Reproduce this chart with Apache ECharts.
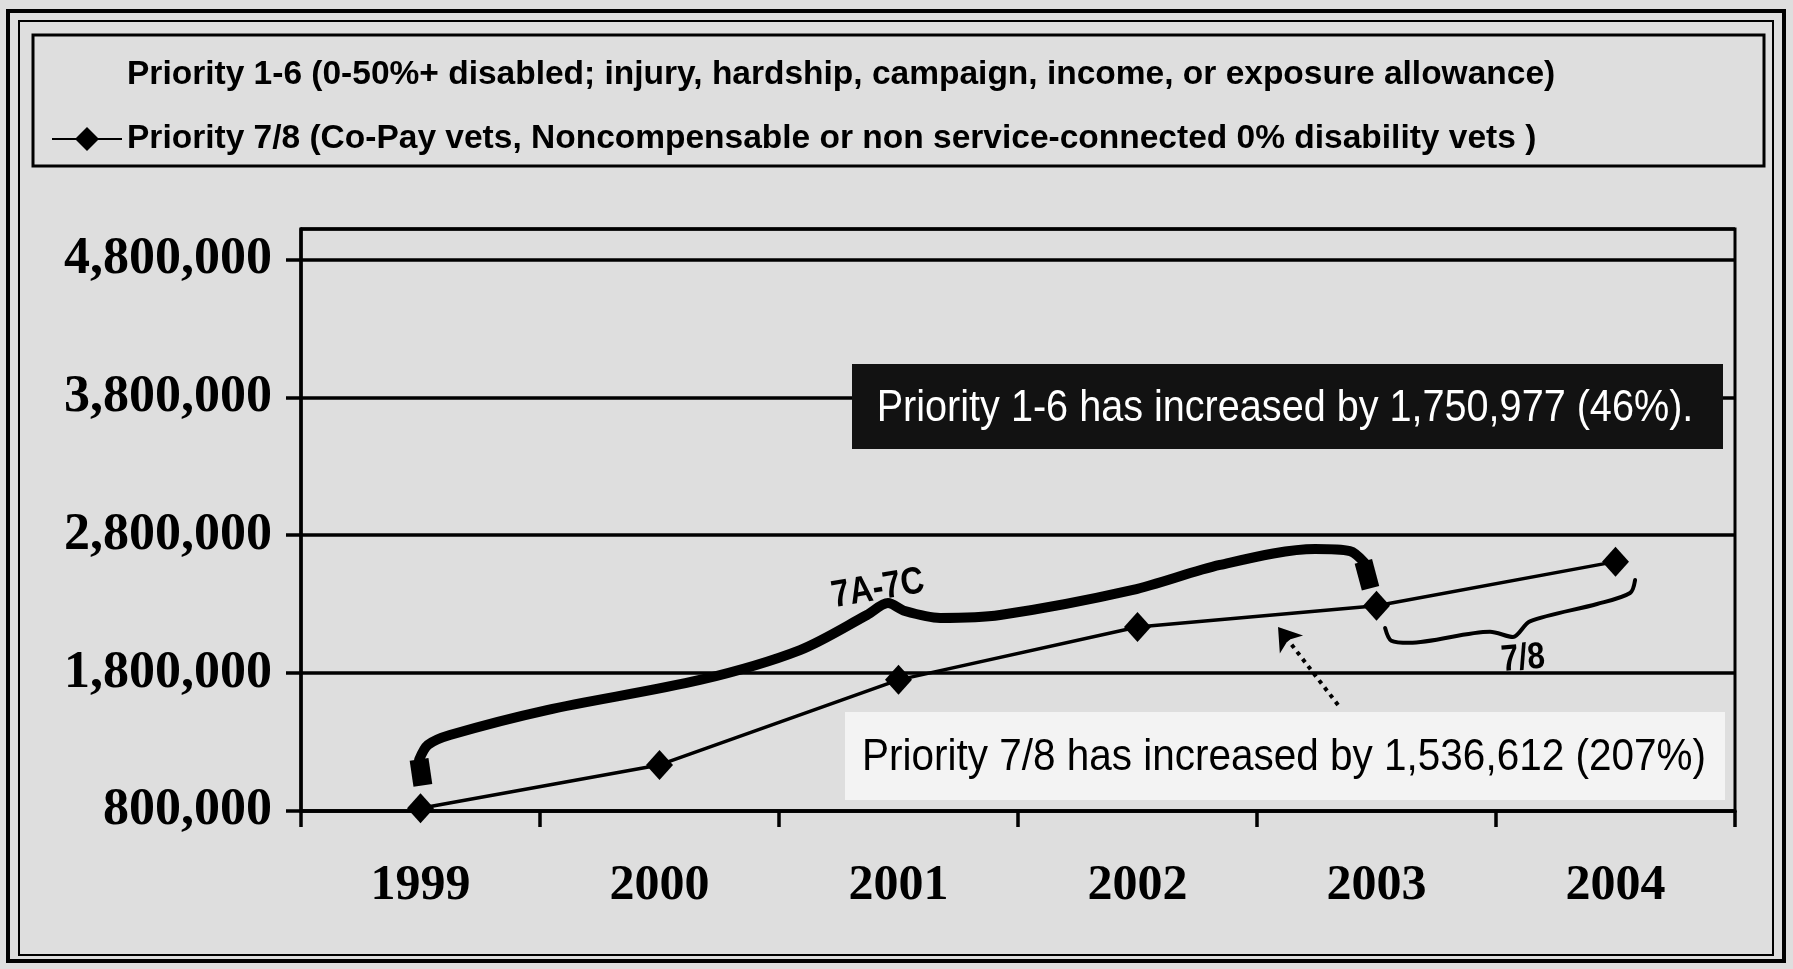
<!DOCTYPE html>
<html>
<head>
<meta charset="utf-8">
<style>
html,body{margin:0;padding:0;background:#dedede;}
#chart{width:1793px;height:969px;}
</style>
<script src="https://cdn.jsdelivr.net/npm/echarts@6/dist/echarts.min.js"></script>
</head>
<body>
<div id="chart"></div>
<script>
// ---- data ----
const years = ['1999', '2000', '2001', '2002', '2003', '2004'];
const name16 = 'Priority 1-6 (0-50%+ disabled; injury, hardship, campaign, income, or exposure allowance)';
const name78 = 'Priority 7/8 (Co-Pay vets, Noncompensable or non service-connected 0% disability vets )';
const priority16 = [];
const priority78 = [820000, 1134000, 1751000, 2134000, 2288000, 2608000];
const yMin = 800000;
const yMax = 5020000;
const yStep = 1000000;
// annotation braces, in [category position, value]
const brace16 = [[-0.006, 1170000], [0.031, 1279000], [0.123, 1351000], [0.529, 1532000],
  [1.169, 1750000], [1.588, 1967000], [1.868, 2221000], [1.956, 2308000], [2.027, 2250000],
  [2.174, 2200000], [2.425, 2221000], [2.981, 2403000], [3.345, 2584000], [3.743, 2700000],
  [3.889, 2685000], [3.950, 2600000]];
const brace16Start = [[0.010, 985000], [-0.006, 1175000]];
const brace16End = [[3.945, 2610000], [3.975, 2415000]];
const brace78 = [[4.036, 2127000], [4.062, 2035000], [4.137, 2020000], [4.475, 2100000], [4.571, 2062000],
  [4.642, 2175000], [4.923, 2301000], [5.061, 2381000], [5.082, 2475000]];
const arrow78 = [[3.839, 1569000], [3.588, 2134000]];
const note16 = 'Priority 1-6 has increased by 1,750,977 (46%).';
const note78 = 'Priority 7/8 has increased by 1,536,612 (207%)';
const label16 = '7A-7C';
const label78 = '7/8';

const sans = '"Liberation Sans", Arial, sans-serif';
const serif = '"Liberation Serif", "Times New Roman", serif';

const chart = echarts.init(document.getElementById('chart'));
const bracePart = (data, w, smooth) => ({
  type: 'line', xAxisIndex: 1, yAxisIndex: 0, data: data, symbol: 'none', smooth: smooth,
  silent: true, z: 3,
  lineStyle: { color: '#000', width: w, cap: 'round', join: 'round' }
});

chart.setOption({
  backgroundColor: '#dedede',
  animation: false,
  legend: {
    orient: 'vertical', left: 46, top: 50,
    itemWidth: 70, itemHeight: 30, itemGap: 24,
    selectedMode: false,
    textStyle: { fontFamily: sans, fontWeight: 'bold', fontSize: 33.5, color: '#000', lineHeight: 40 },
    data: [
      { name: name16, itemStyle: { opacity: 0 }, lineStyle: { opacity: 0 } },
      { name: name78 }
    ]
  },
  grid: { left: 301, right: 58, top: 229, bottom: 158, show: true, borderColor: '#000', borderWidth: 3, backgroundColor: 'transparent' },
  xAxis: [{
    type: 'category', data: years, boundaryGap: true,
    axisLine: { lineStyle: { color: '#000', width: 3.5 } },
    axisTick: { show: true, length: 16, lineStyle: { color: '#000', width: 3.5 } },
    axisLabel: { fontFamily: serif, fontWeight: 'bold', fontSize: 50, color: '#000', margin: 50 }
  }, {
    type: 'value', min: -0.5, max: 5.5, show: false
  }],
  yAxis: {
    type: 'value', min: yMin, max: yMax, interval: yStep,
    axisLine: { show: true, onZero: false, lineStyle: { color: '#000', width: 3.5 } },
    axisTick: { show: true, length: 15, lineStyle: { color: '#000', width: 3.5 } },
    splitLine: { show: true, lineStyle: { color: '#000', width: 3.5 } },
    axisLabel: {
      fontFamily: serif, fontWeight: 'bold', fontSize: 52, color: '#000', margin: 29,
      showMaxLabel: false,
      formatter: v => v.toLocaleString('en-US')
    }
  },
  series: [
    { name: name16, type: 'line', data: priority16, symbol: 'none', lineStyle: { color: '#000' }, itemStyle: { color: '#000' } },
    bracePart(brace16, 10, 0.3),
    Object.assign(bracePart(brace16Start, 19, false), { lineStyle: { color: '#000', width: 19, cap: 'butt' } }),
    Object.assign(bracePart(brace16End, 18, false), { lineStyle: { color: '#000', width: 18, cap: 'butt' } }),
    bracePart(brace78, 4, 0.3),
    {
      type: 'lines', coordinateSystem: 'cartesian2d', xAxisIndex: 1, yAxisIndex: 0, silent: true, z: 4,
      symbol: ['none', 'arrow'], symbolSize: 22,
      lineStyle: { color: '#000', width: 4, type: [4, 5], opacity: 1 },
      data: [{ coords: arrow78 }]
    },
    {
      name: name78, type: 'line', data: priority78, z: 5,
      symbol: 'diamond', symbolSize: [27, 30],
      lineStyle: { color: '#000', width: 3.5 },
      itemStyle: { color: '#000' }
    }
  ],
  graphic: [
    { type: 'rect', shape: { x: 8, y: 11, width: 1776, height: 950 }, style: { fill: 'none', stroke: '#000', lineWidth: 4 }, silent: true },
    { type: 'rect', shape: { x: 19, y: 21, width: 1754, height: 934 }, style: { fill: 'none', stroke: '#000', lineWidth: 2 }, silent: true },
    { type: 'rect', shape: { x: 33, y: 35, width: 1731, height: 131 }, style: { fill: 'none', stroke: '#000', lineWidth: 3 }, silent: true },
    { type: 'rect', z: 10, shape: { x: 852, y: 364, width: 871, height: 85 }, style: { fill: '#121212' } },
    { type: 'text', z: 11, x: 1285, y: 409, scaleX: 0.9, style: { text: note16, fill: '#fff', font: '44px ' + sans, align: 'center', verticalAlign: 'middle' } },
    { type: 'rect', z: 10, shape: { x: 845, y: 712, width: 880, height: 88 }, style: { fill: '#f3f3f3' } },
    { type: 'text', z: 11, x: 1284, y: 758, scaleX: 0.92, style: { text: note78, fill: '#000', font: '44px ' + sans, align: 'center', verticalAlign: 'middle' } },
    { type: 'text', z: 11, x: 878, y: 589, rotation: 0.17, scaleX: 0.85, style: { text: label16, fill: '#000', font: 'bold 38px ' + sans, align: 'center', verticalAlign: 'middle' } },
    { type: 'text', z: 11, x: 1523, y: 659, rotation: 0.08, scaleX: 0.85, style: { text: label78, fill: '#000', font: 'bold 37px ' + sans, align: 'center', verticalAlign: 'middle' } }
  ]
});
</script>
</body>
</html>
